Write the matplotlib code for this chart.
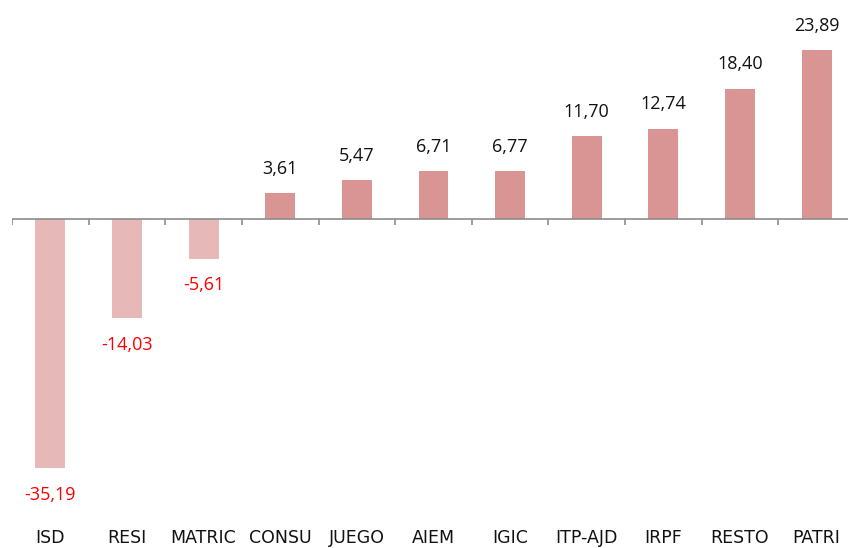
import numpy as np
import matplotlib
matplotlib.use("Agg")
import matplotlib.pyplot as plt

# --- data ---
categories = ["ISD", "RESI", "MATRIC", "CONSU", "JUEGO", "AIEM",
              "IGIC", "ITP-AJD", "IRPF", "RESTO", "PATRI"]
values = [-35.19, -14.03, -5.61, 3.61, 5.47, 6.71,
          6.77, 11.70, 12.74, 18.40, 23.89]

pos_color = "#D99594"
neg_color = "#E6B9B8"

fig = plt.figure(figsize=(8.48, 5.48), dpi=100)
ax = fig.add_axes([12 / 848, 0, 843 / 848, 1])
ax.set_xlim(-0.5, len(categories) - 0.5)
ax.set_ylim(-46.47, 30.93)
ax.axis("off")

x = np.arange(len(categories))
colors = [pos_color if v >= 0 else neg_color for v in values]
ax.bar(x, values, width=0.39, color=colors, zorder=2)

# axis line with category separator ticks
ax.axhline(0, color="#8C8C8C", lw=1.2, zorder=3)
ax.vlines(np.arange(len(categories) + 1) - 0.5, -0.8, 0, color="#8C8C8C", lw=1.2, zorder=3)

# value labels
for xi, v in zip(x, values):
    txt = f"{v:.2f}".replace(".", ",")
    if v >= 0:
        ax.annotate(txt, (xi, v), xytext=(0, 17.5), textcoords="offset points",
                    ha="center", va="center", fontsize=13, color="#111111",
                    family="Open Sans")
    else:
        ax.annotate(txt, (xi, v), xytext=(0, -19), textcoords="offset points",
                    ha="center", va="center", fontsize=13, color="#FF0000",
                    family="Open Sans")

# category labels along the bottom
for xi, c in zip(x, categories):
    ax.text(xi, 0.018, c, transform=ax.get_xaxis_transform(), ha="center",
            va="center", fontsize=12.5, color="#111111", family="Liberation Sans Narrow")

fig.savefig("out.png", dpi=100)
